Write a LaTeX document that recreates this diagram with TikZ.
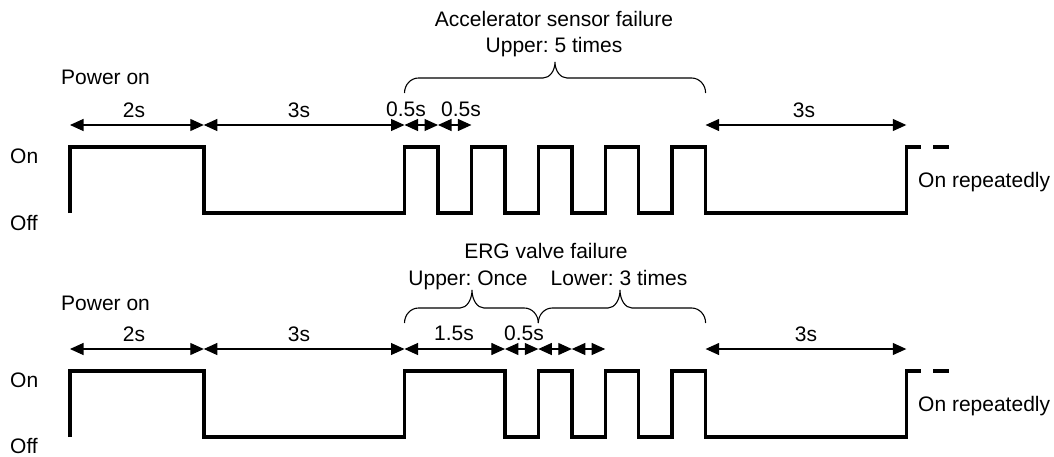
\documentclass[tikz,border=0pt]{standalone}
\usepackage{fontspec}
\setmainfont{Liberation Sans}
\frenchspacing
\usetikzlibrary{arrows.meta}
\newcommand\drawbrace[6]{%
\draw[bracepath] (#1,#4) .. controls (#1,{#4-0.552*(#4-#5)}) and ({#1+14-0.552*14},#5) .. ({#1+14},#5)
 -- ({#2-12},#5) .. controls ({#2-12+0.552*12},#5) and (#2,{#6+0.552*(#5-#6)}) .. (#2,#6)
 .. controls (#2,{#6+0.552*(#5-#6)}) and ({#2+12-0.552*12},#5) .. ({#2+12},#5)
 -- ({#3-14},#5) .. controls ({#3-14+0.552*14},#5) and (#3,{#4-0.552*(#4-#5)}) .. (#3,#4);}
\begin{document}
\begin{tikzpicture}[x=1pt,y=-1pt,
  wave/.style={line width=3.4pt, line join=miter, line cap=butt},
  dim/.style={line width=1.1pt, {Triangle[length=13.5pt,width=12pt]}-{Triangle[length=13.5pt,width=12pt]}},
  bracepath/.style={line width=1.1pt},
  lbl/.style={inner sep=0pt, font=\fontsize{21}{25}\selectfont, anchor=base},
  lblw/.style={lbl, anchor=base west}]
\useasboundingbox (0,0) rectangle (1054,456);

% ---------- top diagram ----------
\node[lbl] (accT) at (554,26) {Accelerator sensor failure};
\node[lbl] (accU) at (554,52) {Upper: 5 times};
\drawbrace{404.5}{555}{705.6}{93}{78}{62}

\node[lblw] (pwrA) at (61,84) {Power on};
\node[lbl] (s2A) at (134,117) {2s};
\node[lbl] (s3A) at (299,117) {3s};
\node[lbl] (h1A) at (406,116) {0.5s};
\node[lbl] (h2A) at (461,116) {0.5s};
\node[lbl] (s3Ab) at (804,117) {3s};

\coordinate (ta0) at (70,125);
\coordinate (ta2) at (203.8,125);
\coordinate (ta5) at (404.5,125);
\coordinate (ta55) at (438,125);
\coordinate (ta6) at (471.4,125);
\coordinate (ta95) at (705.6,125);
\coordinate (ta125) at (906.3,125);
\draw[dim] (ta0) -- (ta2);
\draw[dim] (ta2) -- (ta5);
\draw[dim] (ta5) -- (ta55);
\draw[dim] (ta55) -- (ta6);
\draw[dim] (ta95) -- (ta125);

\node[lblw] (onA) at (10,163) {On};
\node[lblw] (offA) at (10,230) {Off};
\node[lblw] (repA) at (918,187) {On repeatedly};

\draw[wave] (70,213) -- (70,147) -- (203.8,147) -- (203.8,213) -- (404.5,213) -- (404.5,147)
  -- (438,147) -- (438,213) -- (471.4,213) -- (471.4,147) -- (504.9,147) -- (504.9,213)
  -- (538.3,213) -- (538.3,147) -- (571.8,147) -- (571.8,213) -- (605.2,213) -- (605.2,147)
  -- (638.7,147) -- (638.7,213) -- (672.1,213) -- (672.1,147) -- (705.6,147) -- (705.6,213)
  -- (906.3,213) -- (906.3,147) -- (921,147);
\draw[wave] (933,147) -- (949,147);

% ---------- bottom diagram ----------
\node[lbl] (ergT) at (546,258) {ERG valve failure};
\node[lbl] (ergU) at (468,285) {Upper: Once};
\node[lbl] (ergL) at (619,285) {Lower: 3 times};
\drawbrace{404.5}{472}{538.3}{323}{308}{290}
\drawbrace{538.3}{620}{705.6}{323}{308}{290}

\node[lblw] (pwrB) at (61,310) {Power on};
\node[lbl] (s2B) at (134,341) {2s};
\node[lbl] (s3B) at (299,341) {3s};
\node[lbl] (s15B) at (454,340) {1.5s};
\node[lbl] (h1B) at (524,340) {0.5s};
\node[lbl] (s3Bb) at (806,341) {3s};

\coordinate (tb0) at (70,349);
\coordinate (tb2) at (203.8,349);
\coordinate (tb5) at (404.5,349);
\coordinate (tb65) at (504.9,349);
\coordinate (tb7) at (538.3,349);
\coordinate (tb75) at (571.8,349);
\coordinate (tb8) at (605.2,349);
\coordinate (tb95) at (705.6,349);
\coordinate (tb125) at (906.3,349);
\draw[dim] (tb0) -- (tb2);
\draw[dim] (tb2) -- (tb5);
\draw[dim] (tb5) -- (tb65);
\draw[dim] (tb65) -- (tb7);
\draw[dim] (tb7) -- (tb75);
\draw[dim] (tb75) -- (tb8);
\draw[dim] (tb95) -- (tb125);

\node[lblw] (onB) at (10,387) {On};
\node[lblw] (offB) at (10,453) {Off};
\node[lblw] (repB) at (918,411) {On repeatedly};

\draw[wave] (70,437) -- (70,371) -- (203.8,371) -- (203.8,437) -- (404.5,437) -- (404.5,371)
  -- (504.9,371) -- (504.9,437) -- (538.3,437) -- (538.3,371) -- (571.8,371) -- (571.8,437)
  -- (605.2,437) -- (605.2,371) -- (638.7,371) -- (638.7,437) -- (672.1,437) -- (672.1,371)
  -- (705.6,371) -- (705.6,437) -- (906.3,437) -- (906.3,371) -- (921,371);
\draw[wave] (933,371) -- (949,371);
\end{tikzpicture}
\end{document}
